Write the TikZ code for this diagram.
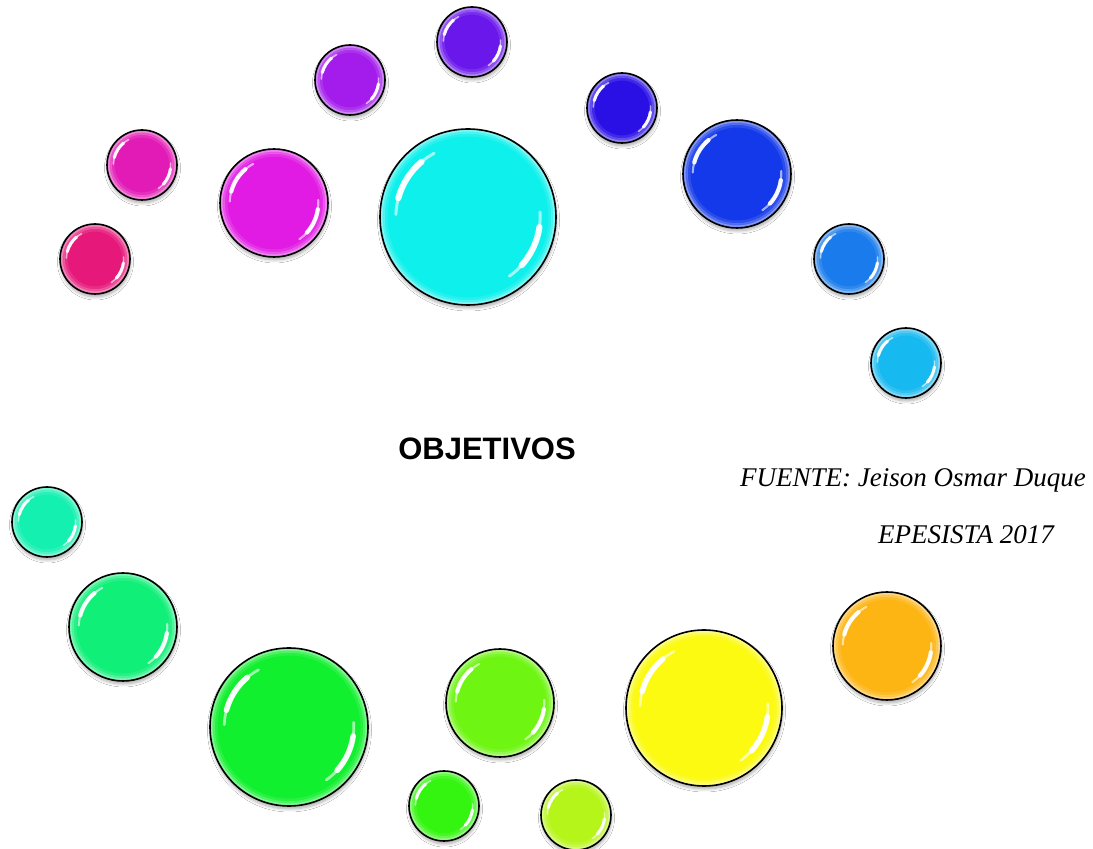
\documentclass[tikz,border=0pt]{standalone}
\usepackage{fontspec}
\newfontfamily\arialfont{Liberation Sans}
\newfontfamily\seriffont{Liberation Serif}
\usetikzlibrary{shadows.blur}
\definecolor{cCrimson}{HTML}{E6187A}
\definecolor{cPink}{HTML}{E31BB6}
\definecolor{cMagenta}{HTML}{E11BE4}
\definecolor{cPurple}{HTML}{A31CEB}
\definecolor{cViolet}{HTML}{6A17EC}
\definecolor{cCyan}{HTML}{0EF0EB}
\definecolor{cBlueViolet}{HTML}{2B10E6}
\definecolor{cBlue}{HTML}{1439EA}
\definecolor{cLightBlue}{HTML}{197BEC}
\definecolor{cSky}{HTML}{16B9F0}
\definecolor{cTeal}{HTML}{14F0B0}
\definecolor{cGreenTeal}{HTML}{10EF78}
\definecolor{cGreen}{HTML}{10F02E}
\definecolor{cSmallGreen}{HTML}{34F510}
\definecolor{cYellowGreen}{HTML}{6EF512}
\definecolor{cLime}{HTML}{B6F51A}
\definecolor{cYellow}{HTML}{FBFA10}
\definecolor{cOrange}{HTML}{FDB514}
\tikzset{
  ball/.style 2 args={circle, draw=black, line width=1.6pt, fill=#2,
    minimum size={2*#1pt}, inner sep=0pt, outer sep=0pt,
    blur shadow={shadow xshift=0.5pt, shadow yshift=-3pt, shadow blur radius=3pt,
      shadow opacity=32, shadow blur steps=6},
    path picture={
      \draw[white, opacity=0.45, line width=2pt] (path picture bounding box.center) circle[radius=#1-1.5];
      \draw[white, opacity=0.25, line width=2.5pt] (path picture bounding box.center) circle[radius=#1-3.5];
      \draw[white, opacity=0.10, line width=3pt] (path picture bounding box.center) circle[radius=#1-6];
      \draw[white, opacity=0.6, line width={0.025*#1+0.8}, line cap=round]
        ([shift={(118:0.82*#1)}]path picture bounding box.center) arc[start angle=118, end angle=178, radius=0.82*#1];
      \draw[white, opacity=0.95, line width={0.055*#1+1.2}, line cap=round]
        ([shift={(130:0.82*#1)}]path picture bounding box.center) arc[start angle=130, end angle=165, radius=0.82*#1];
      \draw[white, opacity=0.6, line width={0.025*#1+0.8}, line cap=round]
        ([shift={(4:0.82*#1)}]path picture bounding box.center) arc[start angle=4, end angle=-55, radius=0.82*#1];
      \draw[white, opacity=0.95, line width={0.055*#1+1.2}, line cap=round]
        ([shift={(-8:0.82*#1)}]path picture bounding box.center) arc[start angle=-8, end angle=-42, radius=0.82*#1];
    }},
  title/.style={font=\arialfont\bfseries\fontsize{31}{37}\selectfont, inner sep=0pt},
  source/.style={font=\seriffont\itshape\fontsize{27}{32}\selectfont, inner sep=0pt, anchor=base west}
}
\begin{document}
\begin{tikzpicture}[x=1pt, y=1pt]
\useasboundingbox[fill=white] (0,0) rectangle (1093,849);
\node[ball={35}{cCrimson}]     (b1)  at (95,590)  {};
\node[ball={35}{cPink}]        (b2)  at (142,684) {};
\node[ball={54}{cMagenta}]     (b3)  at (274,646) {};
\node[ball={35}{cPurple}]      (b4)  at (350,769) {};
\node[ball={35}{cViolet}]      (b5)  at (472,807) {};
\node[ball={88}{cCyan}]        (b6)  at (468,632) {};
\node[ball={35}{cBlueViolet}]  (b7)  at (622,741) {};
\node[ball={54}{cBlue}]        (b8)  at (737,675) {};
\node[ball={35}{cLightBlue}]   (b9)  at (849,590) {};
\node[ball={35}{cSky}]         (b10) at (906,486) {};
\node[ball={35}{cTeal}]        (b11) at (47,327)  {};
\node[ball={54}{cGreenTeal}]   (b12) at (123,222) {};
\node[ball={79}{cGreen}]       (b13) at (289,122) {};
\node[ball={35}{cSmallGreen}]  (b14) at (444,43)  {};
\node[ball={54}{cYellowGreen}] (b15) at (500,146) {};
\node[ball={35}{cLime}]        (b16) at (576,34)  {};
\node[ball={78}{cYellow}]      (b17) at (704,141) {};
\node[ball={54}{cOrange}]      (b18) at (887,203) {};
\node[title] (title) at (487,400) {OBJETIVOS};
\node[source] (src) at (740,362) {FUENTE: Jeison Osmar Duque};
\node[source] (year) at (878,305) {EPESISTA 2017};
\end{tikzpicture}
\end{document}
